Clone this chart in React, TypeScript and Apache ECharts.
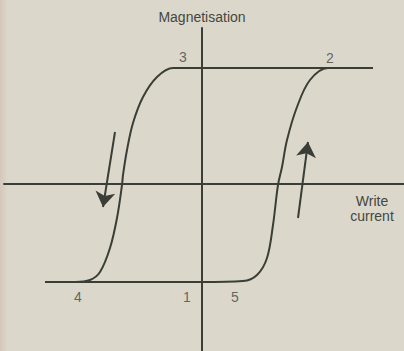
import React, { useEffect, useRef } from "react";
import * as echarts from "echarts";

// Axis ranges (arbitrary units; origin where the two axes cross)
const xRange = [-19.8, 20.2];
const yRange = [-16.7, 15.6];

// Upper branch: from top-right saturation, left along the top, down the left curve to the bottom-left
const upperBranch: number[][] = [
  [17.1, 11.6], [0, 11.6], [-2.9, 11.6], [-4.5, 10.7], [-5.9, 8.7], [-6.9, 6.1], [-7.5, 3.4],
  [-7.9, 0.9], [-8.0, -0.1], [-8.5, -3.4], [-9.2, -6.4], [-10.2, -8.8], [-11.2, -9.6],
  [-12.7, -9.8], [-15.7, -9.8],
];

// Lower branch: from bottom-left, right along the bottom, up the right curve to the top
const lowerBranch: number[][] = [
  [-15.7, -9.8], [0, -9.8], [4.1, -9.7], [5.5, -9.1], [6.5, -7.4], [7.1, -4.1], [7.6, -0.1],
  [8.0, 1.7], [8.5, 4.4], [9.5, 7.7], [10.8, 10.4], [12.6, 11.6], [17.1, 11.6],
];

// Direction arrows [start, tip]
const arrows: number[][][] = [
  [[-8.7, 5.2], [-9.9, -2.3]],
  [[9.6, -3.4], [10.6, 4.2]],
];

// Point labels
const pointLabels: { name: string; value: number[] }[] = [
  { name: "3", value: [-1.9, 12.7] },
  { name: "2", value: [12.8, 12.6] },
  { name: "4", value: [-12.4, -11.3] },
  { name: "1", value: [-1.5, -11.3] },
  { name: "5", value: [3.3, -11.3] },
];

const yAxisName = "Magnetisation";
const xAxisName = "Write\ncurrent";

const INK = "#3b3e36";
const TEXT = "#45463f";
const FONT = "'Liberation Sans', Arial, sans-serif";

export default function App() {
  const ref = useRef<HTMLDivElement>(null);
  useEffect(() => {
    if (!ref.current) return;
    const chart = echarts.init(ref.current, undefined, { renderer: "svg" });
    chart.setOption({
      animation: false,
      backgroundColor: "#dbd8cb",
      grid: { left: 4, right: 0, top: 28, bottom: 0, containLabel: false },
      xAxis: {
        type: "value",
        min: xRange[0],
        max: xRange[1],
        axisLine: { show: true, onZero: true, lineStyle: { color: INK, width: 2 } },
        axisTick: { show: false },
        axisLabel: { show: false },
        splitLine: { show: false },
      },
      yAxis: {
        type: "value",
        min: yRange[0],
        max: yRange[1],
        name: yAxisName,
        nameLocation: "end",
        nameGap: 4,
        nameTextStyle: { color: TEXT, fontSize: 14, fontFamily: FONT },
        axisLine: { show: true, onZero: true, lineStyle: { color: INK, width: 2 } },
        axisTick: { show: false },
        axisLabel: { show: false },
        splitLine: { show: false },
      },
      graphic: [
        {
          type: "rect",
          shape: { x: 0, y: 0, width: 8, height: 351 },
          style: {
            fill: new echarts.graphic.LinearGradient(0, 0, 1, 0, [
              { offset: 0, color: "rgba(214,196,186,0.9)" },
              { offset: 1, color: "rgba(214,196,186,0)" },
            ]),
          },
          z: -1,
        },
        {
          type: "text",
          x: 372,
          y: 193,
          style: {
            text: xAxisName,
            fill: TEXT,
            font: `14px ${FONT}`,
            textAlign: "center",
            textVerticalAlign: "top",
            lineHeight: 15,
          },
        },
      ],
      series: [
        {
          type: "line",
          data: upperBranch,
          smooth: 0.35,
          showSymbol: false,
          symbol: "none",
          lineStyle: { color: INK, width: 2 },
        },
        {
          type: "line",
          data: lowerBranch,
          smooth: 0.35,
          showSymbol: false,
          symbol: "none",
          lineStyle: { color: INK, width: 2 },
        },
        {
          type: "lines",
          coordinateSystem: "cartesian2d",
          symbol: ["none", "arrow"],
          symbolSize: 15,
          lineStyle: { color: INK, width: 2, opacity: 1 },
          itemStyle: { color: INK },
          data: arrows.map((c) => ({ coords: c })),
        },
        {
          type: "scatter",
          symbolSize: 1,
          itemStyle: { color: "transparent" },
          label: {
            show: true,
            position: "inside",
            formatter: "{b}",
            color: TEXT,
            fontSize: 14,
            fontFamily: FONT,
          },
          data: pointLabels,
        },
      ],
    });
    return () => chart.dispose();
  }, []);
  return (
    <div
      ref={ref}
      style={{ position: "fixed", left: 0, top: 0, width: 404, height: 351 }}
    />
  );
}
